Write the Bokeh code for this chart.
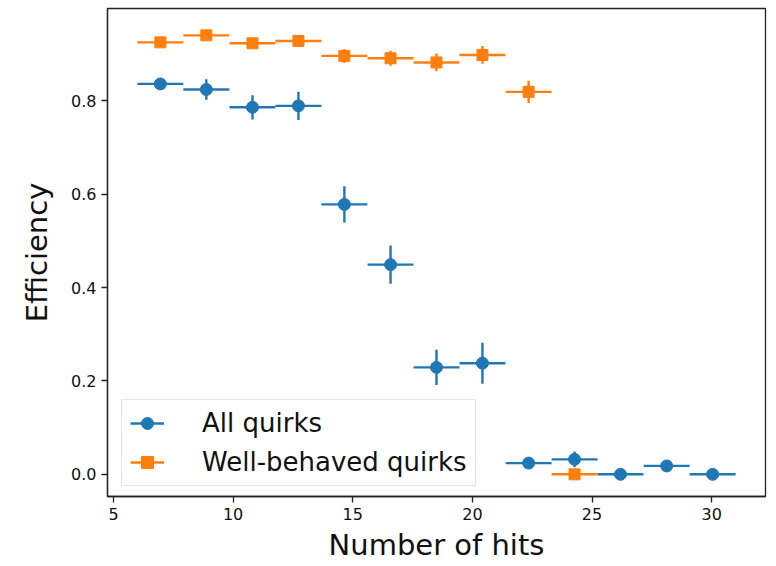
import numpy as np
from bokeh.plotting import figure
from bokeh.models import (Range1d, FixedTicker, PrintfTickFormatter, Legend,
                          LegendItem, ColumnDataSource)
from bokeh.embed import file_html
from bokeh.resources import INLINE

# ---- data ----
bin_centers = [6.96, 8.88, 10.81, 12.73, 14.65, 16.58, 18.50, 20.42,
               22.35, 24.27, 26.19, 28.12, 30.04]
bin_half_width = 0.96

all_eff = [0.836, 0.824, 0.786, 0.789, 0.578, 0.449, 0.229, 0.238,
           0.024, 0.032, 0.0, 0.018, 0.0]
all_err = [0.008, 0.022, 0.026, 0.030, 0.039, 0.041, 0.038, 0.044,
           0.006, 0.017, 0.0, 0.010, 0.0]

wb_centers = [6.96, 8.88, 10.81, 12.73, 14.65, 16.58, 18.50, 20.42,
              22.35, 24.27]
wb_eff = [0.925, 0.940, 0.923, 0.928, 0.896, 0.891, 0.882, 0.898,
          0.819, 0.0]
wb_err = [0.008, 0.008, 0.010, 0.010, 0.015, 0.016, 0.019, 0.019,
          0.024, 0.0]

x_ticks = [5, 10, 15, 20, 25, 30]
y_ticks = [0.0, 0.2, 0.4, 0.6, 0.8]

labels = ["All quirks", "Well-behaved quirks"]
colors = ["#1f77b4", "#ff7f0e"]
FONT = "DejaVu Sans"


def make_source(xc, yc, ye):
    xc = np.asarray(xc, float)
    yc = np.asarray(yc, float)
    ye = np.asarray(ye, float)
    return ColumnDataSource(dict(
        x=xc, y=yc,
        xl=xc - bin_half_width, xr=xc + bin_half_width,
        yl=yc - ye, yh=yc + ye))


p = figure(width=776, height=566, output_backend="svg", toolbar_location=None,
           x_range=Range1d(4.75, 32.25), y_range=Range1d(-0.0475, 0.9975),
           min_border_left=107, min_border_right=11, min_border_top=8,
           min_border_bottom=70)
p.xgrid.visible = False
p.ygrid.visible = False
p.background_fill_color = "white"
p.border_fill_color = "white"
p.outline_line_color = "#222222"
p.outline_line_width = 1.3

items = []
for (xc, yc, ye, marker, size), lab, col in zip(
        [(bin_centers, all_eff, all_err, "circle", 12),
         (wb_centers, wb_eff, wb_err, "square", 11)], labels, colors):
    src = make_source(xc, yc, ye)
    hseg = p.segment(x0="xl", x1="xr", y0="y", y1="y", source=src,
                     line_color=col, line_width=2.4)
    vseg = p.segment(x0="x", x1="x", y0="yl", y1="yh", source=src,
                     line_color=col, line_width=2.4)
    pts = p.scatter(x="x", y="y", source=src, marker=marker, size=size,
                    fill_color=col, line_color=col)
    items.append(LegendItem(label=lab, renderers=[hseg, pts]))

for ax in (p.xaxis[0], p.yaxis[0]):
    ax.major_label_text_font = FONT
    ax.major_label_text_font_size = "16px"
    ax.major_label_text_color = "#111111"
    ax.axis_label_text_font = FONT
    ax.axis_label_text_font_size = "29px"
    ax.axis_label_text_font_style = "normal"
    ax.axis_label_text_color = "#111111"
    ax.major_tick_out = 6
    ax.major_tick_in = 0
    ax.minor_tick_line_color = None
    ax.axis_line_color = "#222222"
    ax.axis_line_width = 1.3
    ax.major_tick_line_color = "#222222"
    ax.major_tick_line_width = 1.3

p.xaxis[0].ticker = FixedTicker(ticks=x_ticks)
p.yaxis[0].ticker = FixedTicker(ticks=y_ticks)
p.xaxis[0].formatter = PrintfTickFormatter(format="%d")
p.yaxis[0].formatter = PrintfTickFormatter(format="%.1f")
p.xaxis[0].axis_label = "Number of hits"
p.yaxis[0].axis_label = "Efficiency"
p.yaxis[0].axis_label_standoff = 14

legend = Legend(items=items, location=(14, 10), margin=0, padding=8,
                spacing=9, glyph_width=34, glyph_height=30, label_height=30,
                label_standoff=38, label_text_font=FONT,
                label_text_font_size="26px", label_text_color="#111111",
                border_line_color="#cccccc", border_line_width=1,
                background_fill_color="white", background_fill_alpha=0.8)
p.add_layout(legend)

open("out.html", "w").write(file_html(p, INLINE))
